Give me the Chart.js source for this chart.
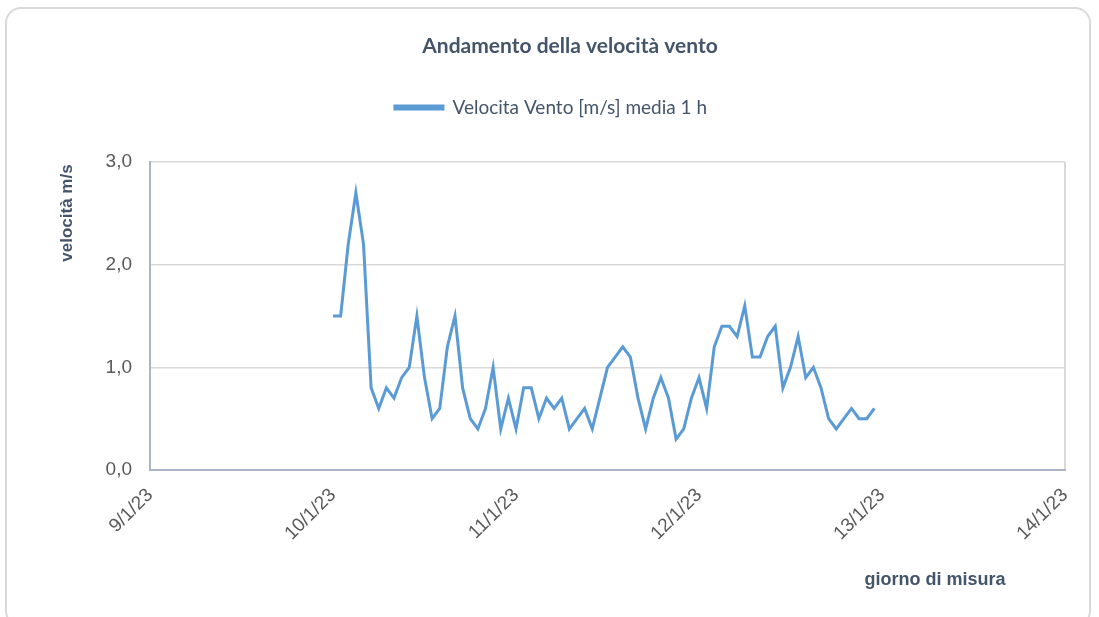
<!DOCTYPE html>
<html>
<head>
<meta charset="utf-8">
<script src="https://cdn.jsdelivr.net/npm/chart.js@4.4.1/dist/chart.umd.min.js"></script>
<style>
  body { margin: 0; background: #fff; }
  #wrap { position: relative; width: 1099px; height: 617px; }
  #frame { position: absolute; left: 5px; top: 7px; width: 1086px; height: 620px;
           border: 2px solid #d9d9d9; border-radius: 16px; box-sizing: border-box; }
  #myChart { position: absolute; left: 0; top: 0; }
</style>
</head>
<body>
<div id="wrap">
  <div id="frame"></div>
  <canvas id="myChart" width="1099" height="617"></canvas>
</div>
<script>
// hourly means, day by day, starting at 00:00
const giorni = ["9/1/23", "10/1/23", "11/1/23", "12/1/23", "13/1/23", "14/1/23"];
const yTicks = [0, 1, 2, 3];
const vento10 = [1.5, 1.5, 2.2, 2.7, 2.2, 0.8, 0.6, 0.8, 0.7, 0.9, 1.0, 1.5,
                 0.9, 0.5, 0.6, 1.2, 1.5, 0.8, 0.5, 0.4, 0.6, 1.0, 0.4, 0.7];
const vento11 = [0.4, 0.8, 0.8, 0.5, 0.7, 0.6, 0.7, 0.4, 0.5, 0.6, 0.4, 0.7,
                 1.0, 1.1, 1.2, 1.1, 0.7, 0.4, 0.7, 0.9, 0.7, 0.3, 0.4, 0.7];
const vento12 = [0.9, 0.6, 1.2, 1.4, 1.4, 1.3, 1.6, 1.1, 1.1, 1.3, 1.4, 0.8,
                 1.0, 1.3, 0.9, 1.0, 0.8, 0.5, 0.4, 0.5, 0.6, 0.5, 0.5, 0.6];

// x in hours from 9/1/23 00:00
let punti = [];
[vento10, vento11, vento12].forEach(function (giorno, d) {
  giorno.forEach(function (v, h) {
    punti.push({ x: (d + 1) * 24 + h, y: v });
  });
});

const testoScuro = "#44546a";
const testoTick = "#595959";

const titoli = {
  id: "titoli",
  afterDraw(chart) {
    const ctx = chart.ctx;
    ctx.save();
    ctx.fillStyle = testoScuro;
    ctx.textAlign = "center";
    ctx.textBaseline = "middle";
    ctx.font = "bold 21px Lato";
    ctx.fillText("Andamento della velocità vento", 570, 46);
    ctx.font = "bold 18px 'Liberation Sans'";
    ctx.fillText("giorno di misura", 935, 580);
    ctx.translate(67, 213);
    ctx.rotate(-Math.PI / 2);
    ctx.font = "bold 17px 'Liberation Sans'";
    ctx.fillText("velocità m/s", 0, 0);
    ctx.restore();
  }
};

// extra space under the legend
const spazioLegenda = {
  id: "spazioLegenda",
  beforeUpdate(chart) {
    const leg = chart.legend;
    if (leg && !leg._patched) {
      const fit = leg.fit;
      leg.fit = function () { fit.call(this); this.height += 35; };
      leg._patched = true;
    }
  }
};

new Chart("myChart", {
  type: "line",
  data: {
    datasets: [{
      label: "Velocita Vento [m/s] media 1 h",
      data: punti,
      borderColor: "#5b9bd5",
      backgroundColor: "#5b9bd5",
      borderWidth: 3,
      pointRadius: 0,
      tension: 0
    }]
  },
  options: {
    responsive: false,
    animation: false,
    layout: { padding: { left: 37, right: 34, top: 51, bottom: 0 } },
    plugins: {
      legend: {
        labels: {
          boxWidth: 48, boxHeight: 3,
          color: testoScuro,
          font: { family: "Lato", size: 19 },
          padding: 47
        }
      },
      title: { display: false },
      tooltip: { enabled: false }
    },
    scales: {
      x: {
        type: "linear",
        min: 0, max: 120,
        afterBuildTicks(scale) {
          scale.ticks = giorni.map((g, i) => ({ value: i * 24 }));
        },
        afterFit(scale) { scale.height = 147; },
        ticks: {
          stepSize: 24,
          minRotation: 45, maxRotation: 45,
          color: testoTick,
          font: { family: "Liberation Sans", size: 19 },
          padding: 14,
          callback: function (v) { return giorni[v / 24]; }
        },
        grid: {
          drawTicks: false,
          color: (c) => c.tick && c.tick.value === 120 ? "#d9d9d9" : "rgba(0,0,0,0)",
          lineWidth: 2
        },
        border: { color: "#a9b4c6", width: 2 }
      },
      y: {
        min: 0, max: 3,
        afterBuildTicks(scale) {
          scale.ticks = yTicks.map((v) => ({ value: v }));
        },
        afterFit(scale) { scale.width = 150 - 37; },
        ticks: {
          color: testoTick,
          font: { family: "Liberation Sans", size: 19 },
          padding: 18,
          callback: function (v) { return v.toFixed(1).replace(".", ","); }
        },
        grid: { drawTicks: false, color: "#d9d9d9", lineWidth: 1.5 },
        border: { color: "#a9b4c6", width: 2 }
      }
    }
  },
  plugins: [titoli, spazioLegenda]
});
</script>
</body>
</html>
